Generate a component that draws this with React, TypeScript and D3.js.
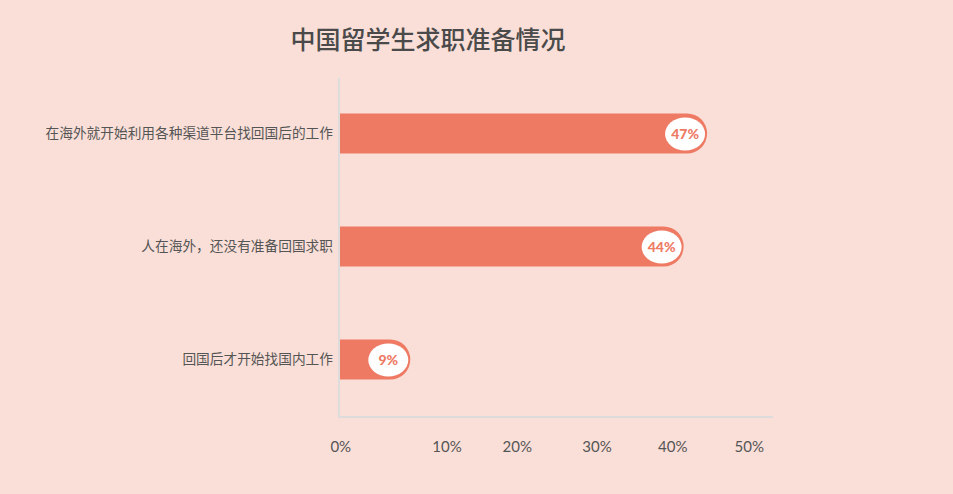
import React, { useEffect, useRef } from 'react';
import * as d3 from 'd3';

const categories = ['在海外就开始利用各种渠道平台找回国后的工作', '人在海外，还没有准备回国求职', '回国后才开始找国内工作'];
const values = [47, 44, 9];
const tickLabels = ['0%', '10%', '20%', '30%', '40%', '50%'];
// where each tick label sits along the value axis (as drawn in the original)
const tickAnchors = [0.1, 13.7, 22.7, 32.9, 42.6, 52.4];

const W = 953;
const H = 494;

const App: React.FC = () => {
  const svgRef = useRef<SVGSVGElement>(null);

  useEffect(() => {
    document.body.style.margin = '0';
    const svg = d3.select(svgRef.current);
    svg.selectAll('*').remove();

    const left = 340, right = 773, top = 78, bottom = 417;
    const barColor = '#ee7a64';
    const font = '"Noto Sans CJK SC", "Noto Sans", sans-serif';

    svg.append('rect').attr('width', W).attr('height', H).attr('fill', '#fadfd8');

    svg.append('text')
      .attr('x', 428).attr('y', 49)
      .attr('text-anchor', 'middle')
      .attr('font-family', font)
      .attr('font-size', 25)
      .attr('font-weight', 500)
      .attr('fill', '#4a4a4a')
      .text('中国留学生求职准备情况');

    const x = d3.scaleLinear().domain([0, 55.44]).range([left, right]);
    const y = d3.scaleBand<string>().domain(categories).range([top - 1, bottom - 1]).paddingInner(0.646).paddingOuter(0.323);

    // axis lines
    svg.append('line').attr('x1', left - 1).attr('x2', left - 1).attr('y1', top).attr('y2', bottom)
      .attr('stroke', '#dcdcdc').attr('stroke-width', 2);
    svg.append('line').attr('x1', left - 2).attr('x2', right).attr('y1', bottom).attr('y2', bottom)
      .attr('stroke', '#dcdcdc').attr('stroke-width', 2);

    // tick labels
    svg.append('g').selectAll('text')
      .data(tickLabels)
      .enter()
      .append('text')
      .attr('x', (d, i) => x(tickAnchors[i]))
      .attr('y', 452)
      .attr('text-anchor', 'middle')
      .attr('font-family', 'Lato, "Noto Sans", sans-serif')
      .attr('font-size', 15)
      .attr('fill', '#555')
      .text(d => d);

    // category labels
    svg.append('g').selectAll('text')
      .data(categories)
      .enter()
      .append('text')
      .attr('x', left - 7)
      .attr('y', d => (y(d) || 0) + y.bandwidth() / 2)
      .attr('dy', '0.35em')
      .attr('text-anchor', 'end')
      .attr('font-family', font)
      .attr('font-size', 13.7)
      .attr('fill', '#555')
      .text(d => d);

    const bh = y.bandwidth();
    const r = bh / 2;

    const bars = svg.append('g').selectAll('g')
      .data(categories)
      .enter()
      .append('g');

    // bar with rounded right end
    bars.append('path')
      .attr('fill', barColor)
      .attr('d', (d, i) => {
        const y0 = y(d) || 0;
        const x1 = x(values[i]);
        const p = d3.path();
        p.moveTo(left, y0);
        p.lineTo(x1 - r, y0);
        p.arc(x1 - r, y0 + r, r, -Math.PI / 2, Math.PI / 2);
        p.lineTo(left, y0 + bh);
        p.closePath();
        return p.toString();
      });

    bars.append('ellipse')
      .attr('cx', (d, i) => x(values[i]) - 22)
      .attr('cy', d => (y(d) || 0) + r + 0.5)
      .attr('rx', 20)
      .attr('ry', 16.5)
      .attr('fill', '#fff');

    bars.append('text')
      .attr('x', (d, i) => x(values[i]) - 22)
      .attr('y', d => (y(d) || 0) + r + 0.5)
      .attr('dy', '0.35em')
      .attr('text-anchor', 'middle')
      .attr('font-family', 'Lato, "Noto Sans", sans-serif')
      .attr('font-size', 14)
      .attr('font-weight', 900)
      .attr('fill', barColor)
      .text((d, i) => `${values[i]}%`);
  }, []);

  return (
    <div style={{ position: 'fixed', left: 0, top: 0, width: W, height: H }}>
      <svg ref={svgRef} width={W} height={H} style={{ display: 'block' }} />
    </div>
  );
};

export default App;
